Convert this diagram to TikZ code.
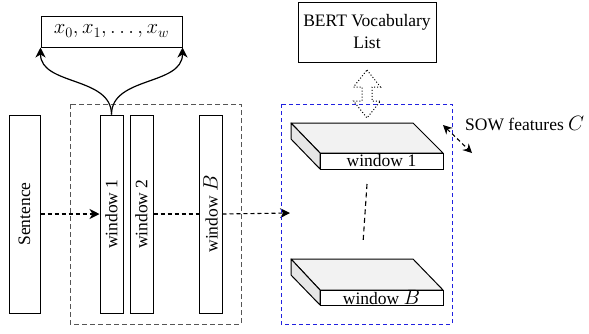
\documentclass[tikz,border=0pt]{standalone}
\usepackage[no-math]{fontspec}
\setmainfont{Liberation Serif}
\usetikzlibrary{arrows.meta}
\definecolor{boxgray}{HTML}{555555}
\definecolor{winblue}{HTML}{2020E0}
\definecolor{topface}{HTML}{F2F2F2}
\definecolor{sideface}{HTML}{E6E6E6}
% math is set a little larger than the running text
\newcommand\mth[1]{{\fontsize{20.5}{24}\selectfont$#1$}}
\tikzset{
  lbl/.style={font=\fontsize{17.5}{21}\selectfont},
  plainbox/.style={draw, line width=1pt, fill=white, inner sep=0pt, lbl},
  vbar/.style={plainbox, rotate=90, minimum width=198pt},
  tip/.style={-{Stealth[length=10pt,width=10pt,inset=3pt]}},
  dashline/.style={line width=1.1pt, dash pattern=on 4pt off 3pt},
  face/.style={draw, line width=1pt, line join=round},
}
\begin{document}
\begin{tikzpicture}[x=1pt,y=-1pt]
\useasboundingbox (0,0) rectangle (589,333);

% grouping frame round the windows
\draw[boxgray, line width=1pt, dash pattern=on 5pt off 3pt] (70,104) rectangle (241,324);

% token output box
\node[plainbox, minimum width=141pt, minimum height=31pt] (xs) at (111.5,31.5) {\mth{x_0, x_1, \ldots, x_w}};

% sentence and window columns
\node[vbar, minimum height=31pt] (sent) at (24.5,214) {Sentence};
\node[vbar, minimum height=23pt] (w1) at (111.5,214) {window 1};
\node[vbar, minimum height=23pt] (w2) at (141.5,214) {window 2};
\node[vbar, minimum height=23pt] (wB) at (210.5,214) {window \mth{B}};
\coordinate (feat) at (290,213);

\draw[dashline, tip] (sent.south) -- (w1.north);
\draw[dashline] (w2.south) -- (wB.north);
\draw[dashline, tip] (wB.south) -- (feat);

% token arrows
\draw[line width=1.2pt, tip] (w1.east) to[out=90,in=-90] (xs.south west);
\draw[line width=1.2pt, tip] (w1.east) to[out=90,in=-90] (xs.south east);

% vocabulary box
\node[plainbox, minimum width=138pt, minimum height=60pt, align=center] (bert) at (367,32) {BERT Vocabulary\\[1pt]List};

% slab 1
\draw[face, fill=topface] (291,123) -- (413,123) -- (443,153) -- (320,153) -- cycle;
\draw[face, fill=sideface] (291,123) -- (320,153) -- (320,169) -- (291,139) -- cycle;
\node[plainbox, minimum width=123pt, minimum height=16pt] (s1) at (381.5,161) {window 1};

% slab B
\draw[face, fill=topface] (291,259) -- (413,259) -- (443,290) -- (320,290) -- cycle;
\draw[face, fill=sideface] (291,259) -- (320,290) -- (320,305) -- (291,275) -- cycle;
\node[plainbox, minimum width=123pt, minimum height=15pt] (sB) at (381.5,297.5) {window \mth{B}};

% elided slabs
\coordinate (d1) at (367,184);
\coordinate (d2) at (363,243);
\draw[line width=1.1pt, dash pattern=on 5pt off 3.5pt] (d1) -- (d2);

% feature frame
\draw[winblue, line width=1pt, dash pattern=on 4pt off 3pt] (281,104) rectangle (452,324);

% vocabulary lookup arrow
\draw[line width=1pt, dotted] (367,70) -- (380.5,87) -- (372,87) -- (372,101) -- (380.5,101)
  -- (367,118) -- (353.5,101) -- (362,101) -- (362,87) -- (353.5,87) -- cycle;

% feature label
\node[lbl, anchor=west, inner sep=0pt] (sow) at (465,124) {SOW features \mth{C}};
\coordinate (c1) at (443,125);
\coordinate (c2) at (472,153);
\draw[dashline, {Stealth[length=9pt,width=9pt,inset=3pt]}-{Stealth[length=9pt,width=9pt,inset=3pt]}] (c1) -- (c2);
\end{tikzpicture}
\end{document}
